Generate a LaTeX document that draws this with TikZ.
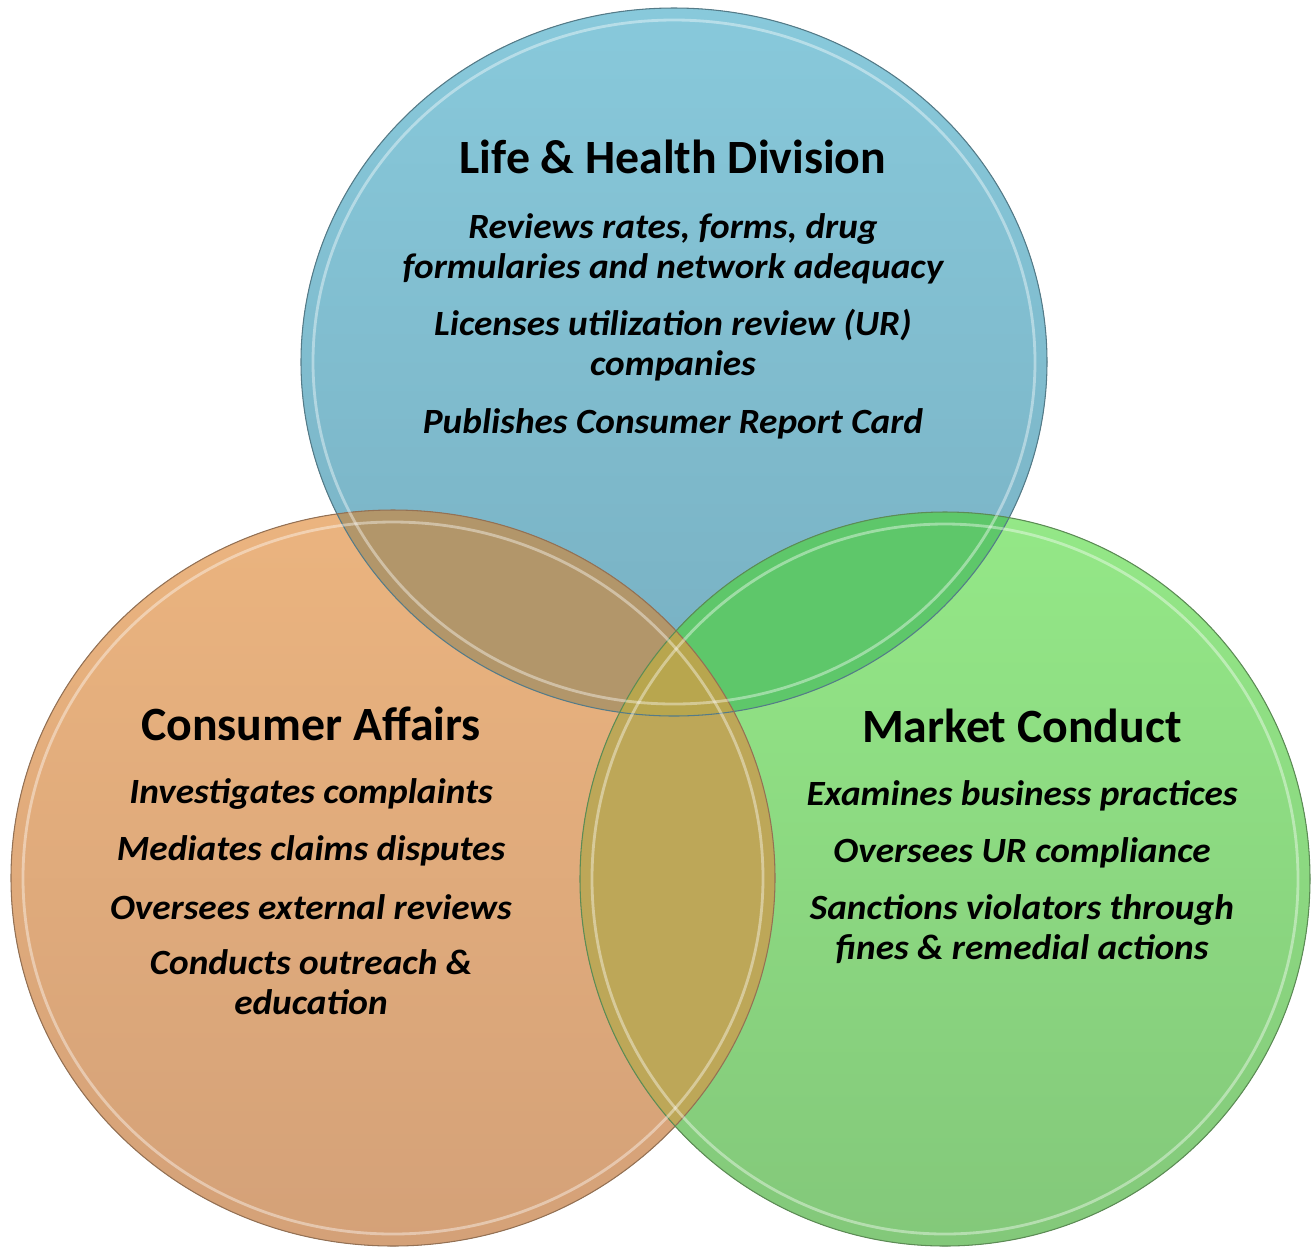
\documentclass[tikz,border=0pt]{standalone}
\usepackage{fontspec}
\setmainfont{Carlito}
\newfontfamily\itemfont[FakeStretch=1.05]{Carlito}
\usetikzlibrary{positioning}

\definecolor{lhblue}{HTML}{88C9DB}
\definecolor{lhbluedk}{HTML}{78B0C2}
\definecolor{caorange}{HTML}{EBB47F}
\definecolor{caorangedk}{HTML}{D4A178}
\definecolor{mcgreen}{HTML}{94E887}
\definecolor{mcgreendk}{HTML}{83C87A}
\definecolor{lhxca}{HTML}{B2966A}
\definecolor{lhxmc}{HTML}{5EC76A}
\definecolor{caxmc}{HTML}{BDA758}
\definecolor{allthree}{HTML}{B8A64E}

\tikzset{
  heading/.style={font=\fontsize{27.2}{32}\selectfont\bfseries, align=center},
  item/.style={font=\itemfont\fontsize{20.2}{22.7}\selectfont\bfseries\itshape, align=center},
  rim/.style={draw=#1, line width=0.6pt},
  glint/.style={draw=white, draw opacity=0.4, line width=1.6pt}
}

\def\lhcircle{(674,362) ellipse [x radius=373, y radius=354]}
\def\cacircle{(393,878) ellipse [x radius=382, y radius=368]}
\def\mccircle{(945,879) ellipse [x radius=365, y radius=367]}

\begin{document}
\begin{tikzpicture}[x=0.02cm, y=-0.02cm]
\useasboundingbox (0,0) rectangle (1313,1249);
% the three circles
\fill[top color=lhblue, bottom color=lhbluedk] \lhcircle;
\fill[top color=caorange, bottom color=caorangedk] \cacircle;
\fill[top color=mcgreen, bottom color=mcgreendk] \mccircle;
% overlaps
\begin{scope} \clip \lhcircle; \fill[lhxca] \cacircle; \end{scope}
\begin{scope} \clip \lhcircle; \fill[lhxmc] \mccircle; \end{scope}
\begin{scope} \clip \cacircle; \fill[caxmc] \mccircle; \end{scope}
\begin{scope} \clip \lhcircle; \clip \cacircle; \fill[allthree] \mccircle; \end{scope}
% rims
\draw[rim=lhbluedk!70!black] \lhcircle;
\draw[rim=caorangedk!70!black] \cacircle;
\draw[rim=mcgreendk!70!black] \mccircle;
\draw[glint] (674,362) ellipse [x radius=361, y radius=342];
\draw[glint] (393,878) ellipse [x radius=370, y radius=356];
\draw[glint] (945,879) ellipse [x radius=353, y radius=355];

% Life & Health Division
\node[heading] (lhtitle) at (673,157) {Life \& Health Division};
\node[item] (lhrates) at (673,249) {Reviews rates, forms, drug\\formularies and network adequacy};
\node[item] (lhlicense) at (673,345) {Licenses utilization review (UR)\\companies};
\node[item] (lhcard) at (673,424) {Publishes Consumer Report Card};

% Consumer Affairs
\node[heading] (catitle) at (311,724) {Consumer Affairs};
\foreach \name/\ypos/\txt in {cacomplaints/794/{Investigates complaints},
    cadisputes/851/{Mediates claims disputes}, careviews/907/{Oversees external reviews},
    caoutreach/982/{Conducts outreach \&\\education}}
  \node[item] (\name) at (311,\ypos) {\txt};

% Market Conduct
\node[heading] (mctitle) at (1022,726) {Market Conduct};
\foreach \name/\ypos/\txt in {mcpractices/796/{Examines business practices},
    mccompliance/853/{Oversees UR compliance},
    mcsanctions/929/{Sanctions violators through\\fines \& remedial actions}}
  \node[item] (\name) at (1022,\ypos) {\txt};
\end{tikzpicture}
\end{document}
